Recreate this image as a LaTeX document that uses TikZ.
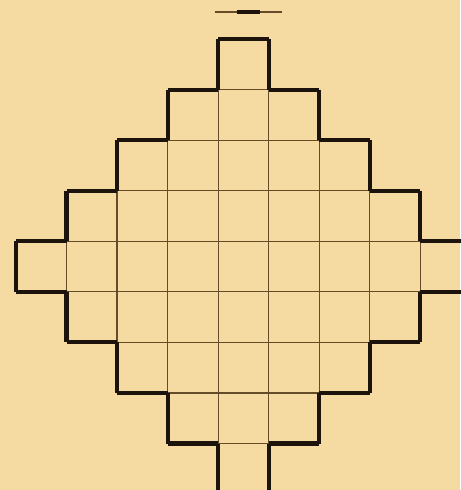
\documentclass[tikz,border=0pt]{standalone}
\usepackage{tikz}
\definecolor{paper}{RGB}{245,218,162}
\definecolor{ink}{RGB}{28,20,12}
\definecolor{pencil}{RGB}{100,76,40}

\begin{document}
\begin{tikzpicture}[rim/.style={draw=ink,line width=2.3pt},seam/.style={draw=pencil,line width=0.7pt}]
			\useasboundingbox (-0.316,0.774) rectangle (8.79,-8.92);
			\fill[paper] (-0.316,0.774) rectangle (8.79,-8.92);
			% mark over the figure
			\draw[seam] (3.94,0.535) to (5.27,0.535);
			\draw[rim] (4.37,0.535) to (4.82,0.535);
			% thin lines inside
			\draw[seam] (4,-1) to (5,-1);
			\draw[seam] (3,-2) to (6,-2);
			\draw[seam] (2,-3) to (7,-3);
			\draw[seam] (1,-4) to (8,-4);
			\draw[seam] (1,-5) to (8,-5);
			\draw[seam] (2,-6) to (7,-6);
			\draw[seam] (3,-7) to (6,-7);
			\draw[seam] (4,-8) to (5,-8);
			\draw[seam] (1,-4) to (1,-5);
			\draw[seam] (2,-3) to (2,-6);
			\draw[seam] (3,-2) to (3,-7);
			\draw[seam] (4,-1) to (4,-8);
			\draw[seam] (5,-1) to (5,-8);
			\draw[seam] (6,-2) to (6,-7);
			\draw[seam] (7,-3) to (7,-6);
			\draw[seam] (8,-4) to (8,-5);
			% thick rim, top half
			\draw[rim] (4,0) to (5,0);
			\draw[rim] (4,0) to (4,-1);
			\draw[rim] (5,0) to (5,-1);
			\draw[rim] (3,-1) to (4,-1);
			\draw[rim] (5,-1) to (6,-1);
			\draw[rim] (3,-1) to (3,-2);
			\draw[rim] (6,-1) to (6,-2);
			\draw[rim] (2,-2) to (3,-2);
			\draw[rim] (6,-2) to (7,-2);
			\draw[rim] (2,-2) to (2,-3);
			\draw[rim] (7,-2) to (7,-3);
			\draw[rim] (1,-3) to (2,-3);
			\draw[rim] (7,-3) to (8,-3);
			\draw[rim] (1,-3) to (1,-4);
			\draw[rim] (8,-3) to (8,-4);
			\draw[rim] (0,-4) to (1,-4);
			\draw[rim] (8,-4) to (9,-4);
			% thick rim, bottom half
			\draw[rim] (0,-4) to (0,-5);
			\draw[rim] (0,-5) to (1,-5);
			\draw[rim] (8,-5) to (9,-5);
			\draw[rim] (1,-5) to (1,-6);
			\draw[rim] (8,-5) to (8,-6);
			\draw[rim] (1,-6) to (2,-6);
			\draw[rim] (7,-6) to (8,-6);
			\draw[rim] (2,-6) to (2,-7);
			\draw[rim] (7,-6) to (7,-7);
			\draw[rim] (2,-7) to (3,-7);
			\draw[rim] (6,-7) to (7,-7);
			\draw[rim] (3,-7) to (3,-8);
			\draw[rim] (6,-7) to (6,-8);
			\draw[rim] (3,-8) to (4,-8);
			\draw[rim] (5,-8) to (6,-8);
			\draw[rim] (4,-8) to (4,-9);
			\draw[rim] (5,-8) to (5,-9);
		\end{tikzpicture}
\end{document}
